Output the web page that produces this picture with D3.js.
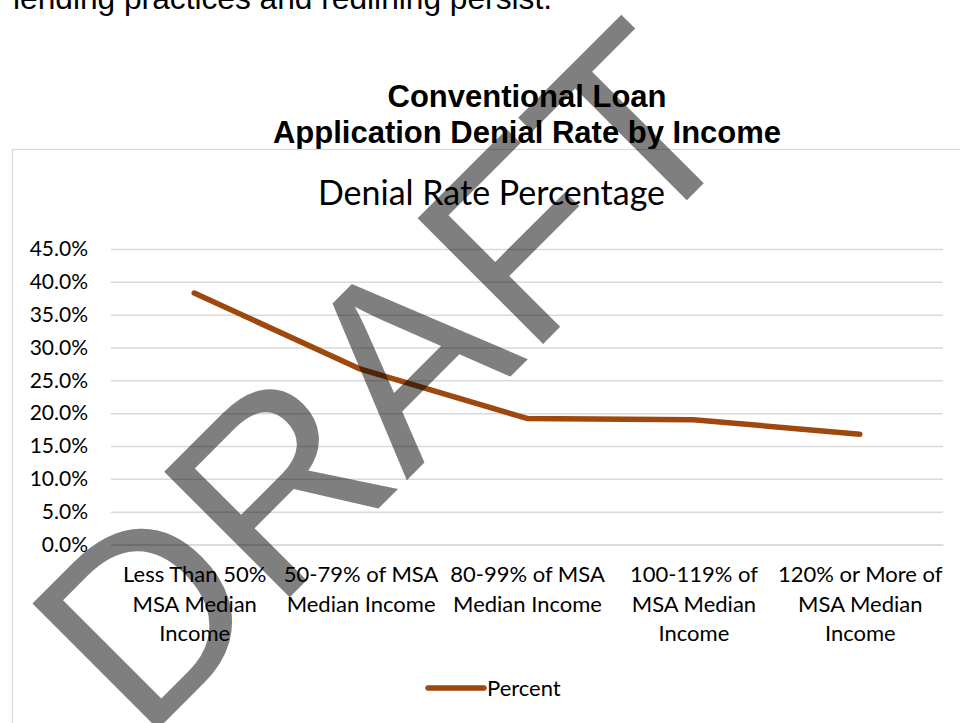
<!DOCTYPE html>
<html>
<head>
<meta charset="utf-8">
<script src="https://cdn.jsdelivr.net/npm/d3@7"></script>
<style>
  html, body { margin: 0; padding: 0; background: #fff; }
  svg { display: block; }
</style>
</head>
<body>
<svg id="chart" width="960" height="723"></svg>
<script>
// Chart content
const bodyText = "lending practices and redlining persist.";
const titleLines = ["Conventional Loan", "Application Denial Rate by Income"];
const subtitle = "Denial Rate Percentage";
const categories = [
  "Less Than 50% MSA Median Income",
  "50-79% of MSA Median Income",
  "80-99% of MSA Median Income",
  "100-119% of MSA Median Income",
  "120% or More of MSA Median Income"
];
const categoryLines = [
  ["Less Than 50%", "MSA Median", "Income"],
  ["50-79% of MSA", "Median Income"],
  ["80-99% of MSA", "Median Income"],
  ["100-119% of", "MSA Median", "Income"],
  ["120% or More of", "MSA Median", "Income"]
];
const percentValues = [38.3, 26.7, 19.2, 19.0, 16.8];
const yTickValues = [0, 5, 10, 15, 20, 25, 30, 35, 40, 45];
const seriesName = "Percent";
const watermarkText = "DRAFT";

const svg = d3.select("#chart");
const bodyFont = "'Liberation Sans', Arial, sans-serif";
const chartFont = "Lato, 'Open Sans', sans-serif";
const lineColor = "#9E480E";
const gridColor = "#d9d9d9";

// Paragraph text above the chart
svg.append("text")
  .attr("x", 13).attr("y", 9)
  .attr("font-family", bodyFont).attr("font-size", 31.7)
  .attr("fill", "#000")
  .text(bodyText);

// Heading above the chart frame
svg.append("g").selectAll("text")
  .data(titleLines).join("text")
  .attr("x", 527).attr("y", (d, i) => 107 + i * 36)
  .attr("text-anchor", "middle")
  .attr("font-family", bodyFont).attr("font-size", 31).attr("font-weight", "bold")
  .attr("fill", "#000")
  .text(d => d);

// Chart frame
svg.append("rect")
  .attr("x", 12.5).attr("y", 149.5).attr("width", 958).attr("height", 620)
  .attr("fill", "#fff").attr("stroke", gridColor).attr("stroke-width", 1.2);

// Chart title
svg.append("text")
  .attr("x", 491.5).attr("y", 205)
  .attr("text-anchor", "middle")
  .attr("font-family", chartFont).attr("font-size", 34)
  .attr("fill", "#000")
  .text(subtitle);

// Scales
const plotLeft = 111, plotRight = 943, plotTop = 249, plotBottom = 544.5;
const x = d3.scalePoint().domain(categories).range([plotLeft, plotRight]).padding(0.5);
const y = d3.scaleLinear().domain([0, 45]).range([plotBottom, plotTop]);

// Y axis with gridlines
const yAxis = svg.append("g")
  .attr("transform", `translate(${plotLeft},0)`)
  .call(d3.axisLeft(y)
    .tickValues(yTickValues)
    .tickSize(-(plotRight - plotLeft))
    .tickPadding(23)
    .tickFormat(d => d.toFixed(1) + "%"));
yAxis.select(".domain").remove();
yAxis.selectAll(".tick line").attr("stroke", gridColor).attr("stroke-width", 1.5);
yAxis.selectAll(".tick text")
  .attr("font-family", chartFont).attr("font-size", 21).attr("fill", "#000");

// Category axis with wrapped labels
const xAxis = svg.append("g")
  .attr("transform", `translate(0,${plotBottom})`)
  .call(d3.axisBottom(x).tickSize(0).tickPadding(0));
xAxis.select(".domain").attr("stroke", gridColor).attr("stroke-width", 1.5);
xAxis.selectAll(".tick text")
  .attr("font-family", chartFont).attr("font-size", 22).attr("fill", "#000")
  .attr("dy", null).attr("y", 0)
  .each(function (d, i) {
    const t = d3.select(this).text(null);
    categoryLines[i].forEach((line, j) => {
      t.append("tspan").attr("x", 0).attr("y", 37.5 + j * 29.5).text(line);
    });
  });

// Data line
const line = d3.line()
  .x((d, i) => x(categories[i]))
  .y(d => y(d));
svg.append("path")
  .datum(percentValues)
  .attr("d", line)
  .attr("fill", "none")
  .attr("stroke", lineColor).attr("stroke-width", 5.5)
  .attr("stroke-linecap", "round").attr("stroke-linejoin", "round");

// Legend
const legend = svg.append("g").attr("transform", "translate(428,688)");
legend.append("line")
  .attr("x1", 0).attr("x2", 56).attr("y1", 0).attr("y2", 0)
  .attr("stroke", lineColor).attr("stroke-width", 5.5).attr("stroke-linecap", "round");
legend.append("text")
  .attr("x", 59).attr("y", 7.5)
  .attr("font-family", chartFont).attr("font-size", 22).attr("fill", "#000")
  .text(seriesName);

// Watermark across the page
svg.append("text")
  .attr("transform", "translate(447,440) rotate(-45)")
  .attr("text-anchor", "middle")
  .attr("font-family", bodyFont).attr("font-size", 258)
  .attr("fill", "#000").attr("fill-opacity", 0.5)
  .text(watermarkText);
</script>
</body>
</html>
